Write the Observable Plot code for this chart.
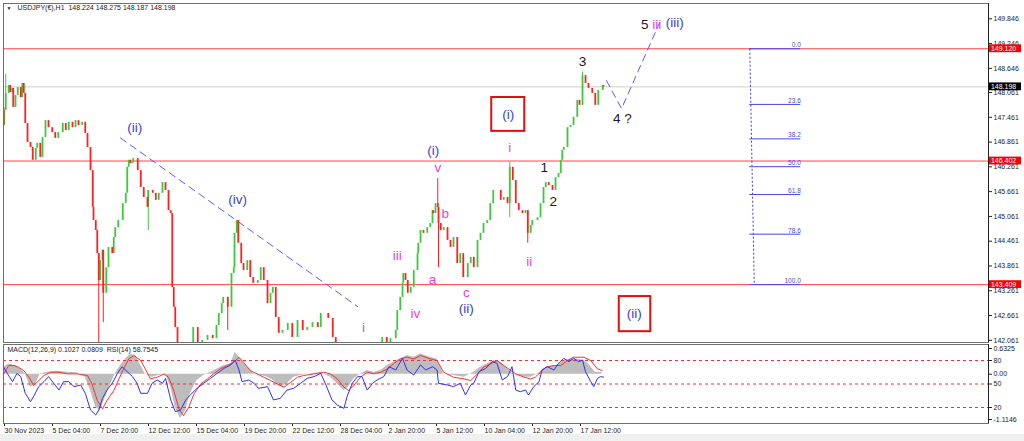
<!DOCTYPE html>
<html><head><meta charset="utf-8">
<script src="https://cdn.jsdelivr.net/npm/d3@7"></script>
<script src="https://cdn.jsdelivr.net/npm/@observablehq/plot@0.6"></script>
<style>
body{margin:0;background:#f0f0f0;}
#wrap{position:relative;width:1024px;height:441px;overflow:hidden;background:#f0f0f0}
#wrap svg{display:block;background:#fff}
</style></head><body><div id="wrap"></div>
<script>
// ---------- DATA ----------
const titleText = "USDJPY(€),H1  148.224 148.275 148.187 148.198";
const indTitle = "MACD(12,26,9) 0.1027 0.0809  RSI(14) 58.7545";

// hourly bar index (0 = 30 Nov 2023) and close prices
const bars = [0,1,3,7,9,12,13,16,19,23,25,27,29,32,36,39,43,45,49,52,56,60,65,69,73,79,83,87,92,96,100,105,109,112,116,119,120,123,125,127,129,132,133,137,140,145,147,149,153,159,163,165,167,169,172,173,179,183,187,192,193,199,203,207,212,216,220,223,225,227,229,232,236,241,247,253,259,265,272,279,284,287,291,293,299,304,307,308,311,313,317,320,325,329,333,339,343,347,352,356,359,363,367,372,379,385,392,399,405,412,419,423,429,433,439,443,449,457,465,473,481,489,497,505,511,516,523,525,529,532,533,536,539,543,547,552,553,556,560,565,569,572,573,576,579,580,583,587,592,596,600,605,609,613,619,623,627,632,636,640,645,649,653,659,663,667,672,675,679,683,687,692,696,699,703,705,712,716,720,723,727,732,736,740,743,745,747,752,756,760,765,768,772,776,780,785,789,793,799,800];
const closes = [147.26,147.63,148.04,148.23,148.06,148.16,147.70,147.99,148.18,147.94,148.28,148.04,147.31,146.85,146.73,146.42,146.71,146.83,146.49,146.97,147.38,147.21,147.09,146.95,147.09,147.31,147.14,147.34,147.21,147.38,147.26,147.34,147.07,146.73,146.17,145.28,144.96,144.72,144.16,143.51,143.99,144.24,143.20,143.82,144.31,144.16,144.55,144.79,144.96,145.37,145.62,146.25,146.42,146.34,146.37,146.46,146.17,145.76,145.52,145.28,145.69,145.62,145.45,145.62,145.88,145.69,145.20,145.13,143.34,142.86,142.37,141.98,141.69,141.94,141.62,142.37,141.94,142.06,142.18,142.10,142.42,142.71,142.95,143.10,142.86,143.68,143.82,144.65,144.96,144.41,143.92,143.75,143.99,143.58,143.44,143.51,143.82,143.51,142.95,143.20,143.34,142.61,142.23,142.30,142.47,142.13,142.54,142.30,142.37,142.49,142.37,142.71,142.71,142.59,142.13,141.86,141.45,141.09,140.85,140.60,140.97,140.80,141.33,142.13,141.81,142.10,142.30,142.78,143.10,143.44,143.68,143.51,143.20,143.34,143.75,144.16,144.41,144.72,144.65,144.79,144.89,145.20,145.13,145.37,145.28,144.89,144.72,144.79,144.48,144.31,144.55,143.92,144.16,143.58,143.92,144.07,143.82,144.48,144.65,144.89,144.96,145.37,145.69,145.69,145.45,145.52,145.37,146.25,145.93,145.37,145.20,145.13,145.20,144.65,144.84,144.96,145.03,145.37,145.76,145.88,145.81,145.69,146.00,146.10,146.42,146.66,146.73,147.21,147.26,147.46,147.87,147.75,148.47,148.28,148.16,148.04,147.75,148.11,148.23,148.198];
const firstOpen = 147.70;

// notable wicks
const wickBars = [3,127,133,193,299,579,580,675,699,772];
const wickHigh = [148.50,144.16,144.24,145.69,143.10,145.98,145.28,146.37,145.20,148.55];
const wickLow  = [148.04,141.60,142.49,144.72,142.30,145.28,143.82,145.03,144.41,147.75];

// price axis
const priceTicks = [149.846,149.246,148.646,148.061,147.461,146.861,146.261,145.661,145.061,144.461,143.861,143.261,142.661,142.061];
const redLevels = [149.120,146.402,143.409];
const currentPrice = 148.198;

// fibonacci retracement
const fibHigh = 149.120, fibLow = 143.409;
const fibRatios = [0.0,23.6,38.2,50.0,61.8,78.6,100.0];
const fibBars = [995,1001,1063]; // top of dotted line, bottom of dotted line, label end

// trend line and projection
const diagBars = [156,472], diagPrices = [146.96,142.88];
const projBars = [804,824,875], projPrices = [148.35,147.67,149.76];

// wave labels
const waveText  = ["(ii)","(iv)","i","iii","iv","a","b","c","(ii)","(i)","v","i","(i)","ii","1","2","3","4 ?","5","iii","(iii)","(ii)"];
const waveBar   = [175,312,480,525,549,572,589,617,617,573,579,675,673,701,721,733,772,825,855,871,895,841];
const wavePrice = [147.21,145.47,142.37,144.11,142.71,143.53,145.13,143.22,142.83,146.66,146.25,146.73,147.53,143.97,146.25,145.42,148.81,147.43,149.71,149.71,149.76,142.71];
const waveKind  = ["b","b","m","m","m","m","m","m","b","b","m","m","b","m","k","k","k","k","k","m","b","b"];
// boxes around (i) and (ii)
const boxBar1 = [651,821], boxBar2 = [695,863], boxTop = [147.94,143.12], boxBottom = [147.12,142.27];

// time axis
const timeTickBars = [0,64,128,192,256,320,384,448,512,576,640,704,768];
const timeTickLabels = ["30 Nov 2023","5 Dec 04:00","7 Dec 20:00","12 Dec 12:00","15 Dec 04:00","19 Dec 20:00","22 Dec 12:00","28 Dec 04:00","2 Jan 20:00","5 Jan 12:00","10 Jan 04:00","12 Jan 20:00","17 Jan 12:00"];

// indicators
const rsiBars = [0,5,12,18,23,29,36,40,47,54,60,67,74,80,87,94,103,109,116,123,127,132,138,145,152,158,165,172,178,183,192,198,205,212,216,223,229,236,243,249,258,267,276,285,294,303,309,314,318,327,334,340,352,360,369,378,387,396,405,414,423,429,438,445,454,458,465,472,478,485,492,498,507,514,523,532,538,547,556,563,572,578,580,592,600,609,616,623,627,634,643,652,658,665,672,678,683,689,696,700,707,714,718,725,734,740,747,754,760,767,772,776,783,787,792,796,800];
const rsiVals = [72.1,63.6,53.0,63.6,59.4,38.1,27.4,33.8,46.6,53.0,59.4,50.9,42.3,53.0,53.0,46.6,48.7,38.1,16.8,10.4,16.8,31.7,42.3,50.9,63.6,72.1,65.7,59.4,50.9,38.1,38.1,50.9,55.1,50.9,57.2,29.6,14.7,16.8,29.6,36.0,44.5,50.9,57.2,63.6,70.0,74.3,80.6,67.9,53.0,55.1,50.9,44.5,46.6,29.6,31.7,42.3,44.5,50.9,57.2,59.4,63.6,50.9,29.6,23.2,18.9,33.8,50.9,59.4,59.4,42.3,50.9,55.1,59.4,72.1,67.9,82.8,67.9,61.5,74.3,67.9,72.1,67.9,50.9,48.7,46.6,50.9,36.0,48.7,50.9,65.7,70.0,78.5,76.4,55.1,59.4,72.1,42.3,40.2,42.3,36.0,46.6,53.0,67.9,72.1,67.9,76.4,82.8,78.5,82.8,78.5,80.6,65.7,53.0,46.6,57.2,59.4,58.75];

const sigBars = [0,7,14,20,27,34,40,47,54,63,74,85,98,112,118,125,132,138,147,154,160,167,174,183,189,196,205,214,220,227,234,240,247,254,263,272,280,289,298,307,314,320,329,338,347,356,365,374,383,392,400,414,427,436,445,454,460,467,476,485,494,503,512,520,529,538,547,556,569,578,587,600,614,623,632,640,649,658,667,683,694,703,709,716,723,734,743,752,760,774,783,792,798];
const sigVals = [0.008,0.213,0.213,0.172,0.090,-0.074,-0.279,-0.156,-0.033,0.049,0.049,0.008,0.008,-0.033,-0.238,-0.648,-0.853,-0.648,-0.402,-0.115,0.131,0.377,0.459,0.336,0.131,-0.115,-0.074,0.008,-0.074,-0.402,-0.853,-1.017,-0.812,-0.484,-0.238,-0.115,0.008,0.131,0.213,0.295,0.418,0.295,0.090,0.008,-0.074,-0.156,-0.238,-0.320,-0.197,-0.074,-0.033,0.008,0.049,0.008,-0.115,-0.320,-0.402,-0.279,-0.074,0.049,0.008,0.049,0.131,0.254,0.377,0.418,0.377,0.459,0.377,0.336,0.049,-0.074,-0.115,-0.156,0.008,0.172,0.254,0.336,0.213,0.008,-0.074,-0.115,-0.074,0.049,0.172,0.213,0.213,0.336,0.418,0.418,0.336,0.131,0.090];

const macdBars = [0,7,16,23,29,36,43,49,58,72,85,98,109,116,123,129,136,143,149,156,163,169,176,183,189,198,207,216,223,229,236,243,249,258,267,276,285,294,303,309,316,325,334,343,352,360,369,378,387,396,409,423,436,445,454,460,467,476,485,494,503,512,520,529,538,547,556,569,578,587,600,614,627,636,645,654,663,672,680,685,694,703,712,720,729,738,747,756,765,774,780,789,798];
const macdVals = [0.172,0.254,0.213,0.131,0.008,-0.320,-0.238,0.008,0.049,0.074,0.049,0.033,-0.074,-0.402,-0.812,-0.894,-0.566,-0.238,0.008,0.213,0.377,0.500,0.459,0.213,0.008,-0.074,-0.033,0.008,-0.320,-0.812,-1.099,-0.894,-0.484,-0.156,-0.033,0.049,0.131,0.213,0.254,0.541,0.377,0.172,0.008,-0.033,-0.074,-0.156,-0.320,-0.238,-0.074,-0.033,0.008,0.033,-0.074,-0.238,-0.402,-0.320,-0.115,0.008,0.090,0.049,0.090,0.213,0.295,0.377,0.459,0.418,0.500,0.418,0.377,0.008,-0.033,-0.074,0.049,0.172,0.254,0.336,0.295,0.131,0.008,-0.033,-0.074,-0.074,0.008,0.131,0.189,0.213,0.336,0.377,0.377,0.336,0.254,0.049,0.049];

const macdTop = 0.6325, macdBottom = -1.1146;
const rsiLevels = [80,50,20];

// ---------- BUILD ----------
const FONT = "Liberation Sans, Arial, sans-serif";
const X_DOMAIN = [0, 1313.3];
const GREEN = "#3cc83c", RED = "#ff2020";
const BLUE = "#3d3dd8", MAG = "#e83ce8", BLACK = "#1a1a1a";
const kindColor = {b: BLUE, m: MAG, k: BLACK};

const candles = bars.map((b, i) => ({bar: b, open: i ? closes[i - 1] : firstOpen, close: closes[i]}));
const upC = candles.filter(d => d.close >= d.open);
const dnC = candles.filter(d => d.close < d.open);
const wicks = wickBars.map((b, i) => {
  const c = candles.find(d => d.bar === b);
  return {bar: b, high: wickHigh[i], low: wickLow[i], color: c && c.close >= c.open ? GREEN : RED};
});
const fibPrice = r => fibHigh - r / 100 * (fibHigh - fibLow);
const waves = waveText.map((t, i) => ({t, bar: waveBar[i], p: wavePrice[i], c: kindColor[waveKind[i]]}));
const boxes = boxBar1.map((b, i) => ({x1: b, x2: boxBar2[i], y1: boxTop[i], y2: boxBottom[i]}));
const tags = [
  {p: redLevels[0], bg: "#ff0000"},
  {p: currentPrice, bg: "#000000"},
  {p: redLevels[1], bg: "#ff0000"},
  {p: redLevels[2], bg: "#ff0000"}
];

const main = Plot.plot({
  width: 1024, height: 343,
  marginLeft: 3, marginRight: 36, marginTop: 3, marginBottom: 1,
  x: {domain: X_DOMAIN, axis: null},
  y: {domain: [142.008, 150.216]},
  color: {type: "identity"},
  style: {fontFamily: FONT, background: "#fff", overflow: "visible"},
  marks: [
    Plot.ruleY([currentPrice], {stroke: "#cfcfcf", strokeWidth: 1}),
    Plot.ruleY(redLevels, {stroke: "#ff4040", strokeWidth: 1}),
    // fibonacci
    Plot.link([0], {x1: fibBars[0], y1: fibHigh, x2: fibBars[1], y2: fibLow, stroke: BLUE, strokeWidth: 1, strokeDasharray: "2,2"}),
    Plot.ruleY(fibRatios, {y: fibPrice, x1: fibBars[0], x2: fibBars[2], stroke: "#4848e0", strokeWidth: 1}),
    Plot.text(fibRatios, {y: fibPrice, x: fibBars[2], text: r => r.toFixed(1), textAnchor: "end", dy: -3.5, fontSize: 6.5, fill: "#4848e0"}),
    // trend line and projection
    Plot.line(diagBars.map((b, i) => [b, diagPrices[i]]), {stroke: "#5a5aff", strokeWidth: 1, strokeDasharray: "7,5"}),
    Plot.line(projBars.map((b, i) => [b, projPrices[i]]), {stroke: "#5a5aff", strokeWidth: 1, strokeDasharray: "7,5"}),
    // candles
    Plot.ruleX(wicks, {x: "bar", y1: "low", y2: "high", stroke: "color", strokeWidth: 1, clip: true}),
    Plot.ruleX(upC, {x: "bar", y1: "open", y2: "close", stroke: GREEN, strokeWidth: 1.8, clip: true}),
    Plot.ruleX(dnC, {x: "bar", y1: "open", y2: "close", stroke: RED, strokeWidth: 1.8, clip: true}),
    // boxes & wave labels
    Plot.rect(boxes, {x1: "x1", x2: "x2", y1: "y1", y2: "y2", fill: "none", stroke: "#e01010", strokeWidth: 2}),
    Plot.text(waves, {x: "bar", y: "p", text: "t", fill: "c", fontSize: 13.5, fontFamily: FONT}),
    // axis
    Plot.axisY({anchor: "right", ticks: priceTicks, tickFormat: d => d.toFixed(3), tickSize: 3, tickPadding: 2, fontSize: 7, label: null, color: "#222"}),
    Plot.rect(tags, {x1: 1313.3, x2: 1357.3, y1: d => d.p - 0.095, y2: d => d.p + 0.095, fill: "bg"}),
    Plot.text(tags, {x: 1316.5, y: "p", text: d => d.p.toFixed(3), fill: "#fff", fontSize: 7, textAnchor: "start"}),
    Plot.frame({stroke: "#707070"}),
    Plot.ruleX([1313.3], {stroke: "#222"}),
    Plot.text([titleText], {frameAnchor: "top-left", dx: 14, dy: 2, lineAnchor: "top", textAnchor: "start", fontSize: 7, fill: "#222"}),
    Plot.text(["▼"], {frameAnchor: "top-left", dx: 3, dy: 3, lineAnchor: "top", textAnchor: "start", fontSize: 5, fill: "#222"})
  ]
});

const macdTopDomain = 0.7309, macdBotDomain = -1.2130;
const rsiToMacd = d3.scaleLinear([20, 80], [-0.8193, 0.3372]);
const indTickVals = [macdTop, rsiToMacd(80), 0, rsiToMacd(50), rsiToMacd(20), macdBottom];
const indTickLabels = ["0.6325", "80", "0.00", "50", "20", "-1.1146"];

const ind = Plot.plot({
  width: 1024, height: 91,
  marginLeft: 3, marginRight: 36, marginTop: 1, marginBottom: 11,
  x: {domain: X_DOMAIN, axis: null},
  y: {domain: [macdBotDomain, macdTopDomain]},
  style: {fontFamily: FONT, background: "#fff", overflow: "visible"},
  marks: [
    Plot.areaY(macdBars.map((b, i) => ({bar: b, v: macdVals[i]})), {x: "bar", y1: 0, y2: "v", fill: "#bdbdbd"}),
    Plot.ruleY(rsiLevels, {y: d => rsiToMacd(d), stroke: "#ff2a2a", strokeDasharray: "3,3", strokeWidth: 1}),
    Plot.line(sigBars.map((b, i) => ({bar: b, v: sigVals[i]})), {x: "bar", y: "v", stroke: "#ff3030", strokeWidth: 1}),
    Plot.line(rsiBars.map((b, i) => ({bar: b, v: rsiToMacd(rsiVals[i])})), {x: "bar", y: "v", stroke: "#2f2fff", strokeWidth: 1}),
    Plot.axisY({anchor: "right", ticks: indTickVals, tickFormat: d => indTickLabels[indTickVals.indexOf(d)], tickSize: 3, tickPadding: 2, fontSize: 7, label: null, color: "#222"}),
    Plot.axisX({anchor: "bottom", ticks: timeTickBars, tickFormat: d => timeTickLabels[timeTickBars.indexOf(d)], tickSize: 3, tickPadding: 2, textAnchor: "start", dx: 1, fontSize: 7, label: null, color: "#222"}),
    Plot.frame({stroke: "#707070"}),
    Plot.ruleX([1313.3], {stroke: "#222"}),
    Plot.text([indTitle], {frameAnchor: "top-left", dx: 4, dy: 3, lineAnchor: "top", textAnchor: "start", fontSize: 7, fill: "#222"})
  ]
});

const wrap = document.getElementById("wrap");
wrap.appendChild(main);
wrap.appendChild(ind);
</script></body></html>
